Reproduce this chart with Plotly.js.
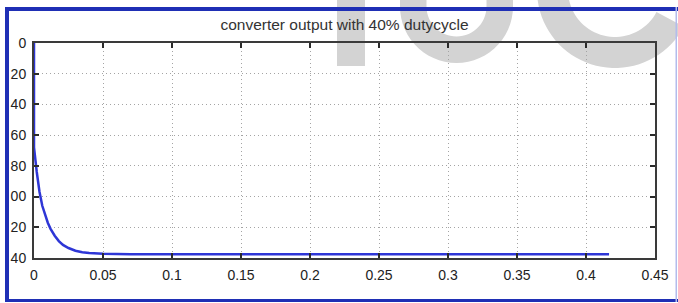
<!DOCTYPE html>
<html>
<head>
<meta charset="utf-8">
<script src="https://cdn.plot.ly/plotly-3.0.1.min.js"></script>
<style>
html,body{margin:0;padding:0;background:#fff;}
#chart{width:678px;height:303px;}
</style>
</head>
<body>
<div id="chart"></div>
<script>
// ---- data ----
const timeS = [0, 0, 0.002, 0.004, 0.006, 0.008, 0.010, 0.012, 0.015, 0.018, 0.021, 0.025, 0.030, 0.035, 0.040, 0.050, 0.060, 0.070, 0.100, 0.200, 0.300, 0.4167];
const output = [0, -68, -84, -97, -106, -112, -117, -121, -125.5, -129, -131.5, -133.5, -135.3, -136.3, -136.8, -137.3, -137.5, -137.5, -137.5, -137.5, -137.5, -137.5];
const yTickVals = [0, -20, -40, -60, -80, -100, -120, -140];
const yTickText = ["0", "20", "40", "60", "80", "00", "20", "40"];
const xTickVals = [0, 0.05, 0.1, 0.15, 0.2, 0.25, 0.3, 0.35, 0.4, 0.45];
const xTickText = ["0", "0.05", "0.1", "0.15", "0.2", "0.25", "0.3", "0.35", "0.4", "0.45"];
const titleText = "converter output with 40% dutycycle";

// ---- layout geometry ----
const W = 678, H = 303;
const M = {l: 34, r: 23, t: 43, b: 45};
const PW = W - M.l - M.r, PH = H - M.t - M.b;
const px = X => (X - M.l) / PW;
const py = Y => 1 - (Y - M.t) / PH;

function polyPath(pts){
  return pts.map((p,i)=> (i? 'L':'M') + px(p[0]).toFixed(5) + ',' + py(p[1]).toFixed(5)).join('') + 'Z';
}
function arcBand(cx, cy, rIn, rOut, a0, a1, step){
  const outer = [], inner = [];
  for (let a = a0; a <= a1 + 1e-9; a += step) {
    const r = a * Math.PI / 180;
    outer.push([cx + rOut * Math.cos(r), cy + rOut * Math.sin(r)]);
    inner.push([cx + rIn * Math.cos(r), cy + rIn * Math.sin(r)]);
  }
  return outer.concat(inner.reverse());
}
function uShape(){
  const cx = 456.5, cy = 6.5, rIn = 30, rOut = 56.5;
  const pts = [[cx - rOut, -10]];
  for (let a = 180; a >= 0; a -= 6) { const r = a*Math.PI/180; pts.push([cx + rOut*Math.cos(r), cy + rOut*Math.sin(r)]); }
  pts.push([cx + rOut, -10]);
  pts.push([cx + rIn, -10]);
  for (let a = 0; a <= 180; a += 6) { const r = a*Math.PI/180; pts.push([cx + rIn*Math.cos(r), cy + rIn*Math.sin(r)]); }
  pts.push([cx - rIn, -10]);
  return pts;
}
// watermark letters (decorative) and outer frame
const wmColor = '#d3d3d3';
const frameBlue = '#1f2fb5';
const shapes = [
  {type:'rect', xref:'paper', yref:'paper', layer:'below', x0:px(337), x1:px(365), y0:py(-5), y1:py(66), fillcolor:wmColor, line:{width:0}},
  {type:'path', xref:'paper', yref:'paper', layer:'below', path:polyPath(uShape()), fillcolor:wmColor, line:{width:0}},
  {type:'path', xref:'paper', yref:'paper', layer:'below', path:polyPath(arcBand(615, -10, 47, 78, 28, 200, 4)), fillcolor:wmColor, line:{width:0}},
  {type:'rect', xref:'paper', yref:'paper', x0:px(5), x1:px(9), y0:py(302), y1:py(7), fillcolor:frameBlue, line:{width:0}},
  {type:'rect', xref:'paper', yref:'paper', x0:px(5), x1:px(678), y0:py(11), y1:py(7), fillcolor:frameBlue, line:{width:0}},
  {type:'rect', xref:'paper', yref:'paper', x0:px(5), x1:px(678), y0:py(302), y1:py(299), fillcolor:frameBlue, line:{width:0}},
  {type:'rect', xref:'paper', yref:'paper', x0:px(675.5), x1:px(677), y0:py(302), y1:py(7), fillcolor:'#b3bcec', line:{width:0}}
];

const fontFam = '"Liberation Sans", Arial, sans-serif';

const traces = [{
  x: timeS, y: output, type:'scatter', mode:'lines',
  line:{color:'#2e36d6', width:2.5}, hoverinfo:'skip'
}];

const axisCommon = {
  showline:true, linecolor:'#3a3a3a', linewidth:2, mirror:'allticks',
  ticks:'inside', ticklen:5, tickwidth:2, tickcolor:'#2a2a2a',
  showgrid:true, gridcolor:'#a4a4a4', griddash:'1px,3px', gridwidth:1,
  zeroline:false, tickfont:{family:fontFam, size:14, color:'#222'}
};

const layout = {
  width:W, height:H, margin:M,
  paper_bgcolor:'#ffffff', plot_bgcolor:'rgba(0,0,0,0)',
  showlegend:false,
  title:{text:titleText, font:{family:fontFam, size:15.5, color:'#333'}, x:0.5, xref:'paper', y:1-25/H, yanchor:'middle'},
  xaxis:Object.assign({}, axisCommon, {range:[0,0.45], tickmode:'array', tickvals:xTickVals, ticktext:xTickText, ticklabelstandoff:3}),
  yaxis:Object.assign({}, axisCommon, {range:[-140,0], tickmode:'array', tickvals:yTickVals, ticktext:yTickText, ticklabelstandoff:3}),
  shapes:shapes
};

Plotly.newPlot('chart', traces, layout, {displayModeBar:false, staticPlot:true});
</script>
</body>
</html>
